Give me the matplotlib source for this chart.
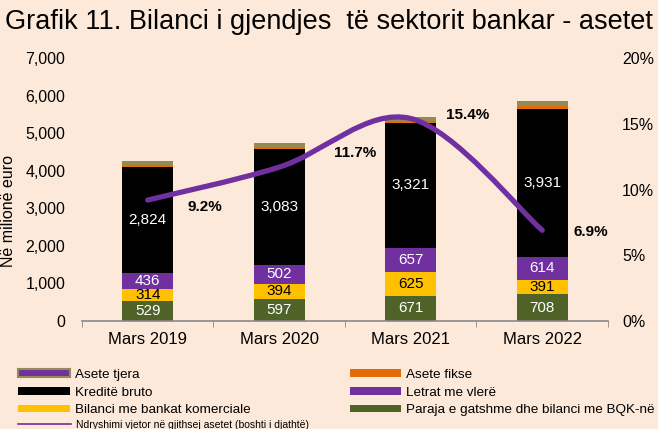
import numpy as np
import matplotlib.pyplot as plt
from matplotlib.path import Path
from matplotlib.patches import PathPatch, Patch
from matplotlib.lines import Line2D
from matplotlib.ticker import FuncFormatter, MultipleLocator

plt.rcParams['font.family'] = ['Liberation Sans', 'DejaVu Sans']

categories = ['Mars 2019', 'Mars 2020', 'Mars 2021', 'Mars 2022']
paraja = [529, 597, 671, 708]
bilanci = [314, 394, 625, 391]
letrat = [436, 502, 657, 614]
kredite = [2824, 3083, 3321, 3931]
fikse = [50, 55, 60, 80]
tjera = [100, 100, 95, 125]
ndryshimi = [9.2, 11.7, 15.4, 6.9]

bg = '#FDE9D9'
c_green = '#4F6228'
c_yellow = '#FFC000'
c_purple = '#7030A0'
c_orange = '#E36C09'
c_khaki = '#948A54'

fig = plt.figure(figsize=(6.58, 4.29), dpi=100, facecolor=bg)
ax = fig.add_axes([0.1246, 0.2517, 0.7994, 0.6131])
ax.set_facecolor(bg)

x = np.arange(len(categories))
w = 0.39
series = [
    (paraja, c_green, 'white'),
    (bilanci, c_yellow, 'black'),
    (letrat, c_purple, 'white'),
    (kredite, 'black', 'white'),
    (fikse, c_orange, None),
    (tjera, c_khaki, None),
]
bottom = np.zeros(len(x))
for vals, col, tcol in series:
    vals = np.array(vals, dtype=float)
    ax.bar(x, vals, w, bottom=bottom, color=col, edgecolor='none', zorder=2)
    if tcol:
        for xi, b, v in zip(x, bottom, vals):
            ax.text(xi, b + v / 2, f'{int(v):,}', ha='center', va='center',
                    color=tcol, fontsize=11, zorder=3)
    bottom += vals

ax.set_xlim(-0.5, 3.5)
ax.set_ylim(0, 7000)
ax.yaxis.set_major_locator(MultipleLocator(1000))
ax.yaxis.set_major_formatter(FuncFormatter(lambda v, p: f'{int(v):,}'))
ax.set_xticks(x)
ax.set_xticklabels(categories)
ax.set_xticks(np.arange(-0.5, 4, 1), minor=True)
ax.tick_params(axis='x', which='major', length=0, labelsize=12, pad=8)
ax.tick_params(axis='x', which='minor', length=4, color='#888888', direction='out')
ax.tick_params(axis='y', length=0, labelsize=11.5, pad=12)
for s in ['top', 'right', 'left']:
    ax.spines[s].set_visible(False)
ax.spines['bottom'].set_color('#888888')
ax.spines['bottom'].set_linewidth(1.2)
ax.set_ylabel('Në milionë euro', fontsize=11.5)
ax.yaxis.set_label_coords(-0.125, 0.42)

ax2 = ax.twinx()
ax2.set_ylim(0, 20)
ax2.yaxis.set_major_locator(MultipleLocator(5))
ax2.yaxis.set_major_formatter(FuncFormatter(lambda v, p: f'{int(v)}%'))
ax2.tick_params(axis='y', length=0, labelsize=11.5, pad=10)
for s in ax2.spines.values():
    s.set_visible(False)

# smoothed line through the points (Catmull-Rom style bezier)
pts = np.column_stack([x, ndryshimi]).astype(float)
verts = [pts[0]]
codes = [Path.MOVETO]
n = len(pts)
for i in range(n - 1):
    p0 = pts[max(i - 1, 0)]
    p1 = pts[i]
    p2 = pts[i + 1]
    p3 = pts[min(i + 2, n - 1)]
    c1 = p1 + (p2 - p0) / 6
    c2 = p2 - (p3 - p1) / 6
    verts += [c1, c2, p2]
    codes += [Path.CURVE4] * 3
ax2.add_patch(PathPatch(Path(verts, codes), facecolor='none', edgecolor=c_purple,
                        lw=3.8, capstyle='round', zorder=4))
offs = [(0.3, -0.5), (0.42, 1.1), (0.27, 0.25), (0.24, -0.1)]
for xi, v, (dx, dy) in zip(x, ndryshimi, offs):
    ax2.text(xi + dx, v + dy, f'{v}%', fontsize=11, fontweight='bold',
             ha='left', va='center', zorder=5)

fig.text(0.008, 0.948, 'Grafik 11. Bilanci i gjendjes  të sektorit bankar - asetet',
         fontsize=19.5, ha='left', va='center')

handles = [
    Patch(facecolor=c_purple, edgecolor=c_khaki, linewidth=1.5),
    Patch(facecolor='black'),
    Patch(facecolor=c_yellow),
    Patch(facecolor=c_orange),
    Patch(facecolor=c_purple),
    Patch(facecolor=c_green),
]
labels = ['Asete tjera', 'Kreditë bruto', 'Bilanci me bankat komerciale',
          'Asete fikse', 'Letrat me vlerë', 'Paraja e gatshme dhe bilanci me BQK-në']
fig.legend(handles, labels, ncol=2, loc='upper left', bbox_to_anchor=(0.028, 0.140),
           frameon=False, fontsize=9.7, handlelength=3.8, handleheight=0.5,
           labelspacing=0.42, handletextpad=0.37, columnspacing=7.4,
           borderpad=0, borderaxespad=0)
fig.legend([Line2D([0], [0], color=c_purple, lw=1.2)],
           ['Ndryshimi vjetor në gjithsej asetet (boshti i djathtë)'],
           loc='center left', bbox_to_anchor=(0.028, 0.010), frameon=False,
           fontsize=7.5, handlelength=5.0, handletextpad=0.48,
           borderpad=0, borderaxespad=0)

fig.savefig('out.png', dpi=100, facecolor=bg)
